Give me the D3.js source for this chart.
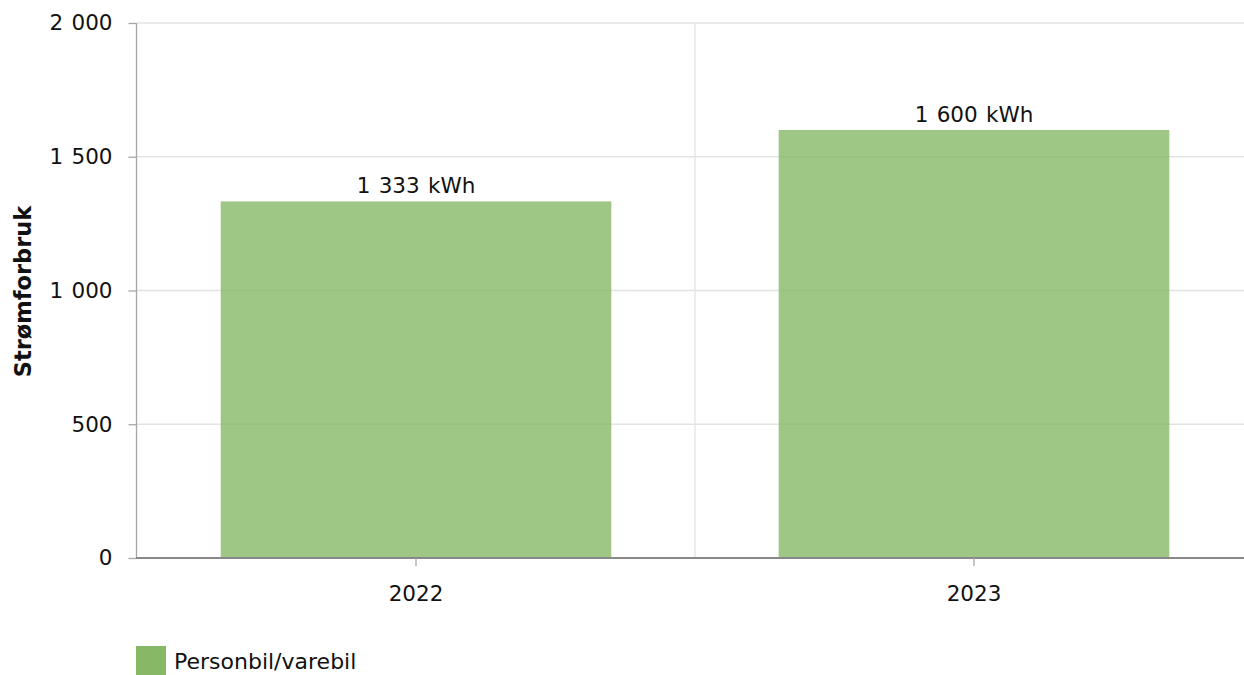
<!DOCTYPE html>
<html><head><meta charset="utf-8">
<script src="https://cdn.jsdelivr.net/npm/d3@7"></script>
<style>body{margin:0;background:#fff}svg{display:block;font-family:"DejaVu Sans",Verdana,sans-serif}</style>
</head><body>
<svg id="c" width="1244" height="675"></svg>
<script>
const categories = ["2022", "2023"];
const values = [1333, 1600];
const yTicks = [0, 500, 1000, 1500, 2000];
const seriesName = "Personbil/varebil";
const yTitle = "Strømforbruk";
const unit = "kWh";

const svg = d3.select("#c");
const pLeft = 137, pRight = 1253, pTop = 23, pBottom = 558;
const fs = 21.5;
const fmt = v => d3.format(",")(v).replace(/,/g, " ");

const x = d3.scaleBand().domain(categories).range([pLeft, pRight]).paddingInner(0.3).paddingOuter(0.15);
const y = d3.scaleLinear().domain([0, 2000]).range([pBottom, pTop]);

// horizontal grid
svg.append("g").selectAll("line").data(yTicks.filter(d => d > 0)).join("line")
  .attr("x1", pLeft).attr("x2", 1244).attr("y1", d => y(d)).attr("y2", d => y(d))
  .attr("stroke", "#e3e3e3").attr("stroke-width", 1.3);
// vertical grid between categories
const step = x.step();
svg.append("g").selectAll("line").data(categories.slice(1)).join("line")
  .attr("x1", d => x(d) - step * x.paddingInner() / 2).attr("x2", d => x(d) - step * x.paddingInner() / 2)
  .attr("y1", pTop).attr("y2", pBottom).attr("stroke", "#e3e3e3").attr("stroke-width", 1.3);

// bars
svg.append("g").selectAll("rect").data(categories).join("rect")
  .attr("x", d => x(d)).attr("width", x.bandwidth())
  .attr("y", (d, i) => y(values[i])).attr("height", (d, i) => pBottom - y(values[i]))
  .attr("fill", "#86b865").attr("fill-opacity", 0.8);

// value labels
svg.append("g").selectAll("text").data(categories).join("text")
  .attr("x", d => x(d) + x.bandwidth() / 2).attr("y", (d, i) => y(values[i]) - 8)
  .attr("text-anchor", "middle").attr("font-size", fs).attr("fill", "#111").attr("word-spacing", 1.5)
  .text((d, i) => fmt(values[i]) + " " + unit);

// y axis
const yAxis = svg.append("g").attr("transform", `translate(${pLeft - 0.5},0)`)
  .call(d3.axisLeft(y).tickValues(yTicks).tickFormat(fmt).tickSize(8).tickPadding(16));
yAxis.select(".domain").attr("stroke", "#a6a6a6").attr("stroke-width", 1.3).attr("d", `M0,${pTop}V${pBottom}`);
yAxis.selectAll(".tick line").attr("stroke", "#a6a6a6").attr("stroke-width", 1.3);
yAxis.selectAll(".tick text").attr("font-size", fs).attr("fill", "#111").attr("font-family", "DejaVu Sans").attr("word-spacing", 1.5);

// x axis
const xAxis = svg.append("g").attr("transform", `translate(0,${pBottom})`)
  .call(d3.axisBottom(x).tickSize(8).tickPadding(20));
xAxis.select(".domain").attr("stroke", "#888").attr("stroke-width", 2).attr("d", `M${pLeft - 1},0H1244`);
xAxis.selectAll(".tick line").attr("stroke", "#a6a6a6").attr("stroke-width", 1.3);
xAxis.selectAll(".tick text").attr("font-size", fs).attr("fill", "#111").attr("font-family", "DejaVu Sans");

// y title
svg.append("text").attr("transform", `translate(31,${(pTop + pBottom) / 2 + 1}) rotate(-90)`)
  .attr("text-anchor", "middle").attr("font-size", 22.5).attr("font-weight", "bold").attr("fill", "#111")
  .text(yTitle);

// legend
const lg = svg.append("g").attr("transform", "translate(136,646)");
lg.append("rect").attr("width", 30).attr("height", 29).attr("fill", "#86b865");
lg.append("text").attr("x", 38).attr("y", 23).attr("font-size", 22).attr("fill", "#111").text(seriesName);
</script>
</body></html>
